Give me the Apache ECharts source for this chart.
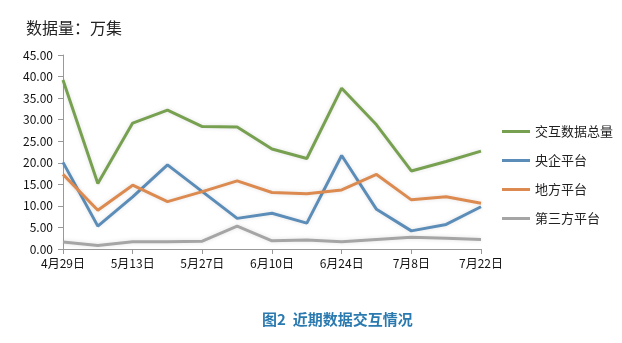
<!DOCTYPE html>
<html>
<head>
<meta charset="utf-8">
<script src="https://cdn.jsdelivr.net/npm/echarts@6/dist/echarts.min.js"></script>
<style>
html,body{margin:0;padding:0;background:#fff;}
#chart{width:622px;height:343px;}
</style>
</head>
<body>
<div id="chart"></div>
<script>
// Weekly dates
var categories = ['4月29日','5月6日','5月13日','5月20日','5月27日','6月3日','6月10日','6月17日','6月24日','7月1日','7月8日','7月15日','7月22日'];
// Data volume, unit: 万集
var totalData   = [39.2, 15.2, 29.2, 32.2, 28.4, 28.3, 23.2, 21.0, 37.3, 28.8, 18.1, 20.3, 22.7];
var centralData = [20.1, 5.3, 12.1, 19.5, 13.3, 7.1, 8.3, 6.0, 21.7, 9.2, 4.2, 5.7, 9.8];
var localData   = [17.3, 9.0, 14.8, 11.0, 13.3, 15.8, 13.1, 12.8, 13.7, 17.3, 11.4, 12.1, 10.6];
var thirdData   = [1.6, 0.8, 1.7, 1.7, 1.8, 5.3, 1.9, 2.1, 1.7, 2.2, 2.7, 2.5, 2.2];
var seriesNames = ['交互数据总量','央企平台','地方平台','第三方平台'];
var colors = ['#77a150','#5b8db8','#dc8a4f','#a5a5a5'];

var font = '"Noto Sans CJK SC", "Noto Sans", sans-serif';
var chart = echarts.init(document.getElementById('chart'));

function mkSeries(name, data, color) {
  return {
    name: name, type: 'line', data: data, symbol: 'none',
    lineStyle: { width: 3, color: color, shadowBlur: 4, shadowColor: 'rgba(0,0,0,0.12)' },
    itemStyle: { color: color }
  };
}

chart.setOption({
  animation: false,
  textStyle: { fontFamily: font },
  graphic: [
    { type: 'text', left: 26, top: 20, style: { text: '数据量：万集', font: '16px ' + font, fill: '#222' } },
    { type: 'text', left: 262, top: 312, style: { text: '图2  近期数据交互情况', font: 'bold 15px ' + font, fill: '#2a7ab0' } }
  ],
  legend: {
    orient: 'vertical', left: 497, top: 118, itemGap: 12,
    itemWidth: 28, itemHeight: 3, icon: 'rect',
    textStyle: { fontSize: 13, color: '#222', fontFamily: font, lineHeight: 17 },
    data: seriesNames
  },
  grid: { left: 63, right: 141, top: 55, bottom: 94 },
  xAxis: {
    type: 'category', data: categories, boundaryGap: false,
    axisLine: { lineStyle: { color: '#999' } },
    axisTick: { interval: 1, length: 5, lineStyle: { color: '#999' } },
    axisLabel: { interval: 1, color: '#111', fontSize: 12, margin: 8, fontFamily: font }
  },
  yAxis: {
    type: 'value', min: 0, max: 45, interval: 5,
    axisLine: { show: true, lineStyle: { color: '#999' } },
    axisTick: { show: true, inside: false, length: 5, lineStyle: { color: '#999' } },
    splitLine: { show: false },
    axisLabel: { color: '#111', fontSize: 12, margin: 10, fontFamily: font,
      formatter: function (v) { return v.toFixed(2); } }
  },
  series: [
    mkSeries(seriesNames[0], totalData, colors[0]),
    mkSeries(seriesNames[1], centralData, colors[1]),
    mkSeries(seriesNames[2], localData, colors[2]),
    mkSeries(seriesNames[3], thirdData, colors[3])
  ]
});
</script>
</body>
</html>
